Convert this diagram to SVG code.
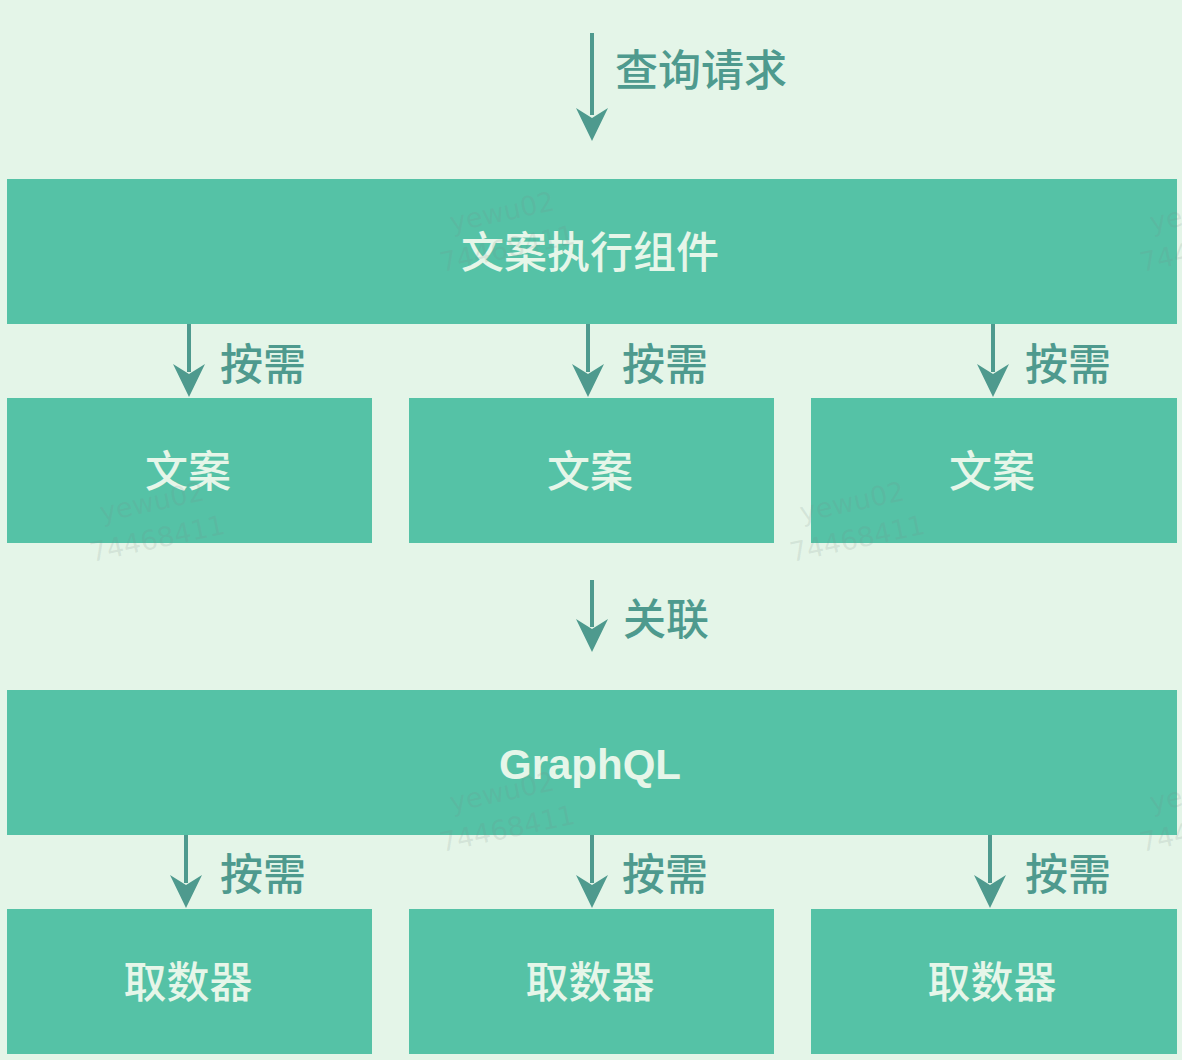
<svg xmlns="http://www.w3.org/2000/svg" width="1182" height="1060" viewBox="0 0 1182 1060">
<style>
.box{fill:#55c2a6}
.bt{fill:#e6f6e9;font-family:"Noto Sans CJK SC","Liberation Sans",sans-serif;font-size:43px;font-weight:500;text-anchor:middle}
.gq{fill:#e6f6e9;font-family:"Liberation Sans",Arial,sans-serif;font-size:42px;font-weight:700;text-anchor:middle}
.lb{fill:#4e9a8e;font-family:"Noto Sans CJK SC","Liberation Sans",sans-serif;font-size:43px;font-weight:500}
.ln{stroke:#4e9a8e;stroke-width:4;fill:none}
.ah{fill:#4e9a8e}
.wm{fill:#7a8a86;fill-opacity:0.16;font-family:"DejaVu Sans",sans-serif;font-size:27px}
</style>
<rect x="0" y="0" width="1182" height="1060" fill="#e4f5e8"/>
<g id="connectors">
<g><line class="ln" x1="592" y1="33" x2="592" y2="115"/><path class="ah" d="M576,108 L592,141 L608,108 L592,118 Z"/></g>
<g><line class="ln" x1="189" y1="324" x2="189" y2="372"/><path class="ah" d="M173,364 L189,397 L205,364 L189,374 Z"/></g>
<g><line class="ln" x1="588" y1="324" x2="588" y2="372"/><path class="ah" d="M572,364 L588,397 L604,364 L588,374 Z"/></g>
<g><line class="ln" x1="993" y1="324" x2="993" y2="372"/><path class="ah" d="M977,364 L993,397 L1009,364 L993,374 Z"/></g>
<g><line class="ln" x1="592" y1="580" x2="592" y2="627"/><path class="ah" d="M576,619 L592,652 L608,619 L592,629 Z"/></g>
<g><line class="ln" x1="186" y1="835" x2="186" y2="883"/><path class="ah" d="M170,875 L186,908 L202,875 L186,885 Z"/></g>
<g><line class="ln" x1="592" y1="835" x2="592" y2="883"/><path class="ah" d="M576,875 L592,908 L608,875 L592,885 Z"/></g>
<g><line class="ln" x1="990" y1="835" x2="990" y2="883"/><path class="ah" d="M974,875 L990,908 L1006,875 L990,885 Z"/></g>
<text class="lb" x="615" y="86">查询请求</text>
<text class="lb" x="220" y="380">按需</text>
<text class="lb" x="622" y="380">按需</text>
<text class="lb" x="1025" y="380">按需</text>
<text class="lb" x="623" y="635">关联</text>
<text class="lb" x="220" y="890">按需</text>
<text class="lb" x="622" y="890">按需</text>
<text class="lb" x="1025" y="890">按需</text>
</g>
<g id="exec"><rect class="box" x="7" y="179" width="1170" height="145"/><text class="bt" x="590" y="268">文案执行组件</text></g>
<g id="copy1"><rect class="box" x="7" y="398" width="365" height="145"/><text class="bt" x="188" y="487">文案</text></g>
<g id="copy2"><rect class="box" x="409" y="398" width="365" height="145"/><text class="bt" x="590" y="487">文案</text></g>
<g id="copy3"><rect class="box" x="811" y="398" width="366" height="145"/><text class="bt" x="992" y="487">文案</text></g>
<g id="graphql"><rect class="box" x="7" y="690" width="1170" height="145"/><text class="gq" x="590" y="779">GraphQL</text></g>
<g id="fetch1"><rect class="box" x="7" y="909" width="365" height="145"/><text class="bt" x="188" y="998">取数器</text></g>
<g id="fetch2"><rect class="box" x="409" y="909" width="365" height="145"/><text class="bt" x="590" y="998">取数器</text></g>
<g id="fetch3"><rect class="box" x="811" y="909" width="366" height="145"/><text class="bt" x="992" y="998">取数器</text></g>
<g id="watermarks">
<text class="wm" transform="translate(452,232) rotate(-12)">yewu02</text>
<text class="wm" transform="translate(442,272) rotate(-12)">74468411</text>
<text class="wm" transform="translate(102,522) rotate(-12)">yewu02</text>
<text class="wm" transform="translate(92,562) rotate(-12)">74468411</text>
<text class="wm" transform="translate(802,522) rotate(-12)">yewu02</text>
<text class="wm" transform="translate(792,562) rotate(-12)">74468411</text>
<text class="wm" transform="translate(452,812) rotate(-12)">yewu02</text>
<text class="wm" transform="translate(442,852) rotate(-12)">74468411</text>
<text class="wm" transform="translate(1152,232) rotate(-12)">yewu02</text>
<text class="wm" transform="translate(1142,272) rotate(-12)">74468411</text>
<text class="wm" transform="translate(1152,812) rotate(-12)">yewu02</text>
<text class="wm" transform="translate(1142,852) rotate(-12)">74468411</text>
</g>
</svg>
